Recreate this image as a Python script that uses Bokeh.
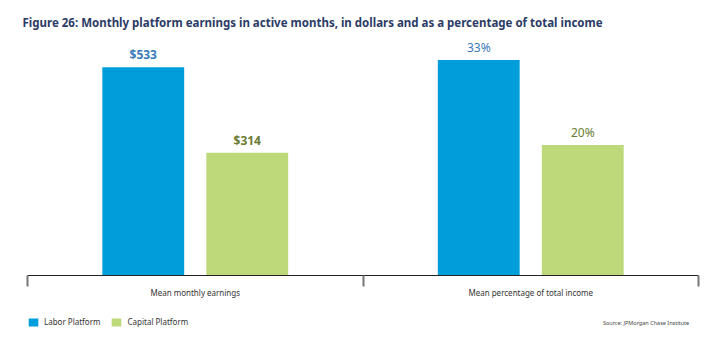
from bokeh.plotting import figure
from bokeh.models import (ColumnDataSource, Range1d, LinearAxis, FixedTicker,
                          Legend, LegendItem, Label)
from bokeh.layouts import column
from bokeh.transform import dodge
from bokeh.core.properties import value
from bokeh.embed import file_html
from bokeh.resources import INLINE

groups = ["Mean monthly earnings", "Mean percentage of total income"]
series = ["Labor Platform", "Capital Platform"]
labor_values = [533, 33]
capital_values = [314, 20]
labor_labels = ["$533", "33%"]
capital_labels = ["$314", "20%"]
source_note = "Source:  JPMorgan Chase Institute"

bar_colors = ["#009ddb", "#bdd97a"]
text_colors = ["#3a7ab8", "#6b7b33"]
FONT = "Noto Sans"

# each category occupies one unit of the x scale, centred on i + 0.5
centers = [i + 0.5 for i in range(len(groups))]
bounds = [float(i) for i in range(len(groups) + 1)]

p = figure(width=725, height=300, output_backend="svg", toolbar_location=None,
           x_range=Range1d(0, len(groups)), y_range=Range1d(0, 601.5),
           x_axis_location=None, y_axis_location=None,
           min_border_left=27, min_border_right=27, min_border_top=40, min_border_bottom=23)
p.extra_y_ranges = {"pct": Range1d(0, 36.0)}
p.outline_line_color = None
p.xgrid.visible = False
p.ygrid.visible = False

p.title.text = "Figure 26: Monthly platform earnings in active months, in dollars and as a percentage of total income"
p.title.text_font = FONT
p.title.text_font_size = "11.5px"
p.title.text_font_style = "bold"
p.title.text_color = "#2c3b66"
p.title.offset = -5
p.title.standoff = 22

offsets = [-0.155, 0.155]
values = [labor_values, capital_values]
labels = [labor_labels, capital_labels]
yr_names = ["default", "pct"]
weights = ["bold", "normal"]

for gi, g in enumerate(groups):
    for si, s in enumerate(series):
        src = ColumnDataSource(dict(pos=[centers[gi]], value=[values[si][gi]], label=[labels[si][gi]]))
        p.vbar(x=dodge("pos", offsets[si]), top="value", width=0.244,
               source=src, color=bar_colors[si], line_color=None, y_range_name=yr_names[gi])
        p.text(x=dodge("pos", offsets[si]), y="value", text="label", source=src,
               y_range_name=yr_names[gi], text_align="center", text_baseline="bottom", y_offset=-4,
               text_font=value(FONT), text_font_size="12px", text_font_style=weights[gi],
               text_color=text_colors[si])

ax = LinearAxis(ticker=FixedTicker(ticks=centers, minor_ticks=bounds),
                major_label_overrides={c: g for c, g in zip(centers, groups)})
ax.axis_line_color = "#222222"
ax.axis_line_width = 1.2
ax.major_tick_line_color = None
ax.minor_tick_line_color = "#777777"
ax.minor_tick_line_width = 2
ax.minor_tick_in = 0
ax.minor_tick_out = 11
ax.major_tick_out = 0
ax.major_tick_in = 0
ax.major_label_standoff = 0
ax.major_label_text_font = FONT
ax.major_label_text_font_size = "8px"
ax.major_label_text_color = "#333333"
p.add_layout(ax, "below")

# footer strip with legend and source note (its frame is aligned with the chart's frame)
f = figure(width=725, height=44, output_backend="svg", toolbar_location=None,
           x_range=Range1d(0, 1), y_range=Range1d(0, 1),
           x_axis_location=None, y_axis_location=None,
           min_border_left=27, min_border_right=27, min_border_top=0, min_border_bottom=0)
f.outline_line_color = None
f.xgrid.visible = False
f.ygrid.visible = False

items = []
for si, s in enumerate(series):
    # zero-height placeholder bar: only used to give the legend its swatch
    r = f.vbar(x="x", top="top", width=0, source=ColumnDataSource(dict(x=[0], top=[0])),
               color=bar_colors[si], line_color=None)
    items.append(LegendItem(label=s, renderers=[r]))

legend = Legend(items=items, orientation="horizontal", location=(0, 17),
                glyph_width=12, glyph_height=10,
                label_text_font=FONT, label_text_font_size="8px", label_text_color="#333333",
                label_height=10, spacing=10, padding=0, margin=0, label_standoff=5,
                border_line_color=None, background_fill_alpha=0)
f.add_layout(legend)

f.add_layout(Label(x=663, y=22, x_units="screen", y_units="screen",
                   text=source_note, text_align="right",
                   text_baseline="middle", text_font=FONT, text_font_size="5.5px",
                   text_color="#444444"))

layout = column(p, f, spacing=0)
open("out.html", "w").write(file_html(layout, INLINE))
